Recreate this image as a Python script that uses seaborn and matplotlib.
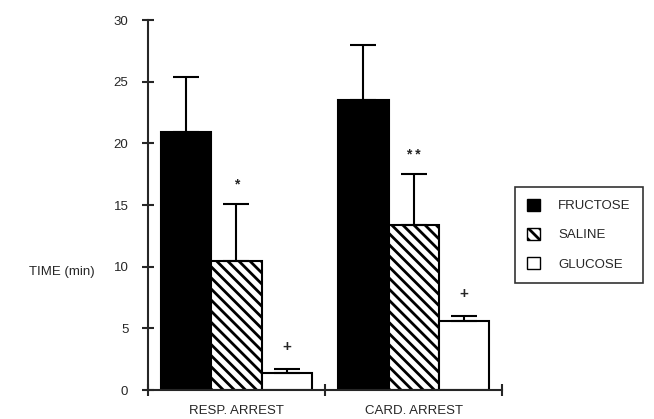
import matplotlib
matplotlib.use("Agg")
import matplotlib.pyplot as plt
import pandas as pd
import seaborn as sns
from matplotlib.patches import Patch

# values (minutes)
conditions = ["RESP. ARREST", "CARD. ARREST"]
treatments = ["FRUCTOSE", "SALINE", "GLUCOSE"]
fructose_mean = [20.9, 23.5]
saline_mean = [10.5, 13.4]
glucose_mean = [1.4, 5.6]
fructose_err = [4.5, 4.5]
saline_err = [4.6, 4.1]
glucose_err = [0.3, 0.4]
marks = {("RESP. ARREST", "SALINE"): "*", ("CARD. ARREST", "SALINE"): "* *",
         ("RESP. ARREST", "GLUCOSE"): "+", ("CARD. ARREST", "GLUCOSE"): "+"}

rows = []
for i, cond in enumerate(conditions):
    for name, means, errs in [("FRUCTOSE", fructose_mean, fructose_err),
                              ("SALINE", saline_mean, saline_err),
                              ("GLUCOSE", glucose_mean, glucose_err)]:
        rows.append({"condition": cond, "treatment": name, "time": means[i], "err": errs[i]})
df = pd.DataFrame(rows)

sns.set_style("ticks")
plt.rcParams["font.family"] = ["Liberation Sans", "DejaVu Sans"]
plt.rcParams["hatch.linewidth"] = 2.0

fig = plt.figure(figsize=(6.54, 4.19), dpi=100)
ax = fig.add_axes([0.226, 0.069, 0.542, 0.883])

fills = {"FRUCTOSE": "black", "SALINE": "white", "GLUCOSE": "white"}
sns.barplot(data=df, x="condition", y="time", hue="treatment", order=conditions,
            hue_order=treatments, palette=fills, edgecolor="black", linewidth=1.5,
            width=0.85, errorbar=None, legend=False, ax=ax)

# bars come out grouped by hue, then by condition
k = 0
for name in treatments:
    for cond in conditions:
        bar = ax.patches[k]
        k += 1
        row = df[(df.condition == cond) & (df.treatment == name)].iloc[0]
        if name == "SALINE":
            bar.set_hatch("\\\\\\")
        cx = bar.get_x() + bar.get_width() / 2
        ax.errorbar(cx, row.time, yerr=[[0], [row.err]], fmt="none", ecolor="black",
                    elinewidth=1.5, capsize=9.5, capthick=1.5, zorder=1)
        m = marks.get((cond, name))
        if m:
            off = 1.2 if m == "+" else 1.0
            ax.text(cx, row.time + row.err + off, m, ha="center", va="bottom",
                    fontsize=11 if m == "+" else 10, fontweight="bold")

ax.set_ylim(0, 30)
ax.set_xlim(-0.5, 1.5)
ax.set_yticks([0, 5, 10, 15, 20, 25, 30])
ax.set_xticks([-0.5, 0.5, 1.5], minor=True)
ax.tick_params(axis="x", which="major", length=0, labelsize=9.5, pad=11)
ax.tick_params(axis="x", which="minor", direction="inout", length=8, width=1.5)
ax.tick_params(axis="y", direction="inout", length=8, width=1.5, labelsize=9.5, pad=10)
sns.despine(ax=ax)
for s in ["left", "bottom"]:
    ax.spines[s].set_linewidth(1.5)
ax.set_xlabel("")
ax.set_ylabel("TIME (min)", rotation=0, fontsize=9.5, ha="center", va="center")
ax.yaxis.set_label_coords(-0.243, 0.32)

handles = [Patch(facecolor="black", edgecolor="black"),
           Patch(facecolor="white", edgecolor="black", hatch="\\\\\\"),
           Patch(facecolor="white", edgecolor="black")]
leg = ax.legend(handles, treatments, loc="center left", bbox_to_anchor=(1.035, 0.42),
                frameon=True, fancybox=False, fontsize=9.5, handlelength=1.0,
                handleheight=1.0, labelspacing=1.2, handletextpad=1.4, borderpad=0.9,
                borderaxespad=0)
leg.get_frame().set_edgecolor("black")
leg.get_frame().set_linewidth(1.2)

fig.savefig("out.png", dpi=100)
